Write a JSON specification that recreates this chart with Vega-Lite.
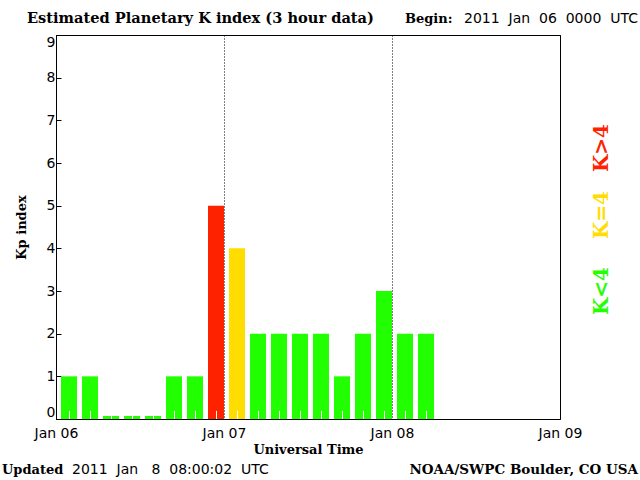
{
  "$schema": "https://vega.github.io/schema/vega-lite/v6.json",
  "width": 504,
  "height": 384,
  "autosize": {"type": "none"},
  "padding": {"left": 56, "top": 35, "right": 80, "bottom": 61},
  "background": "white",
  "config": {
    "view": {"stroke": "black", "strokeWidth": 1},
    "font": "DejaVu Sans",
    "text": {"font": "DejaVu Sans", "fontSize": 14, "color": "black"}
  },
  "datasets": {
    "kp": [
      {"start": "2011-01-06T00:00:00Z", "end": "2011-01-06T03:00:00Z", "Kp": 1},
      {"start": "2011-01-06T03:00:00Z", "end": "2011-01-06T06:00:00Z", "Kp": 1},
      {"start": "2011-01-06T06:00:00Z", "end": "2011-01-06T09:00:00Z", "Kp": 0},
      {"start": "2011-01-06T09:00:00Z", "end": "2011-01-06T12:00:00Z", "Kp": 0},
      {"start": "2011-01-06T12:00:00Z", "end": "2011-01-06T15:00:00Z", "Kp": 0},
      {"start": "2011-01-06T15:00:00Z", "end": "2011-01-06T18:00:00Z", "Kp": 1},
      {"start": "2011-01-06T18:00:00Z", "end": "2011-01-06T21:00:00Z", "Kp": 1},
      {"start": "2011-01-06T21:00:00Z", "end": "2011-01-07T00:00:00Z", "Kp": 5},
      {"start": "2011-01-07T00:00:00Z", "end": "2011-01-07T03:00:00Z", "Kp": 4},
      {"start": "2011-01-07T03:00:00Z", "end": "2011-01-07T06:00:00Z", "Kp": 2},
      {"start": "2011-01-07T06:00:00Z", "end": "2011-01-07T09:00:00Z", "Kp": 2},
      {"start": "2011-01-07T09:00:00Z", "end": "2011-01-07T12:00:00Z", "Kp": 2},
      {"start": "2011-01-07T12:00:00Z", "end": "2011-01-07T15:00:00Z", "Kp": 2},
      {"start": "2011-01-07T15:00:00Z", "end": "2011-01-07T18:00:00Z", "Kp": 1},
      {"start": "2011-01-07T18:00:00Z", "end": "2011-01-07T21:00:00Z", "Kp": 2},
      {"start": "2011-01-07T21:00:00Z", "end": "2011-01-08T00:00:00Z", "Kp": 3},
      {"start": "2011-01-08T00:00:00Z", "end": "2011-01-08T03:00:00Z", "Kp": 2},
      {"start": "2011-01-08T03:00:00Z", "end": "2011-01-08T06:00:00Z", "Kp": 2}
    ]
  },
  "data": {"name": "kp"},
  "layer": [
    {
      "mark": {"type": "bar", "xOffset": 5},
      "encoding": {
        "x": {
          "field": "start",
          "type": "temporal",
          "scale": {
            "type": "utc",
            "domain": [
              {"year": 2011, "month": 1, "date": 6, "utc": true},
              {"year": 2011, "month": 1, "date": 9, "utc": true}
            ]
          },
          "axis": {
            "title": "Universal Time",
            "titleFont": "DejaVu Serif",
            "titleFontWeight": "bold",
            "titleFontSize": 13,
            "titleColor": "black",
            "titlePadding": 3,
            "values": [
              {"year": 2011, "month": 1, "date": 6, "utc": true},
              {"year": 2011, "month": 1, "date": 7, "utc": true},
              {"year": 2011, "month": 1, "date": 8, "utc": true},
              {"year": 2011, "month": 1, "date": 9, "utc": true}
            ],
            "labelExpr": "utcFormat(datum.value, '%b %d')",
            "labelFont": "DejaVu Sans",
            "labelFontSize": 14,
            "labelColor": "black",
            "labelPadding": 7,
            "labelFlush": false,
            "tickSize": 0,
            "domainColor": "black",
            "grid": true,
            "gridColor": "black",
            "gridDash": [1, 2],
            "gridWidth": 1,
            "gridOpacity": 1
          }
        },
        "x2": {"field": "end"},
        "y": {
          "field": "Kp",
          "type": "quantitative",
          "scale": {"domain": [0, 9], "nice": false, "zero": true},
          "axis": {
            "title": "Kp index",
            "titleFont": "DejaVu Serif",
            "titleFontWeight": "bold",
            "titleFontSize": 13,
            "titleColor": "black",
            "titlePadding": 18,
            "values": [0, 1, 2, 3, 4, 5, 6, 7, 8, 9],
            "labelFont": "DejaVu Sans",
            "labelFontSize": 14,
            "labelColor": "black",
            "labelPadding": 6,
            "labelFlush": true,
            "tickSize": -5,
            "tickColor": "black",
            "domainColor": "black",
            "grid": false
          }
        },
        "y2": {"datum": 0},
        "color": {
          "condition": [
            {"test": "datum.Kp > 4", "value": "#FF2200"},
            {"test": "datum.Kp == 4", "value": "#FFDD00"}
          ],
          "value": "#22FF00"
        }
      }
    },
    {
      "transform": [{"filter": "datum.Kp == 0"}],
      "mark": {"type": "bar", "xOffset": 5, "yOffset": -3, "color": "#22FF00"},
      "encoding": {
        "x": {"field": "start", "type": "temporal"},
        "x2": {"field": "end"},
        "y": {"datum": 0, "type": "quantitative"},
        "y2": {"datum": 0}
      }
    },
    {
      "mark": {"type": "rule", "color": "white", "strokeWidth": 1, "xOffset": 13.5},
      "encoding": {
        "x": {"field": "start", "type": "temporal"},
        "y": {"datum": 0, "type": "quantitative"},
        "y2": {"datum": 0.19}
      }
    },
    {
      "data": {"values": [{}]},
      "mark": {"type": "text", "font": "DejaVu Serif", "fontWeight": "bold", "fontSize": 14.6, "align": "left", "baseline": "alphabetic", "dx": -29, "dy": -12},
      "encoding": {
        "x": {"datum": {"year": 2011, "month": 1, "date": 6, "utc": true}, "type": "temporal"},
        "y": {"datum": 9, "type": "quantitative"},
        "text": {"value": "Estimated Planetary K index (3 hour data)"}
      }
    },
    {
      "data": {"values": [{}]},
      "mark": {"type": "text", "font": "DejaVu Serif", "fontWeight": "bold", "fontSize": 13, "align": "left", "baseline": "alphabetic", "dx": -155, "dy": -12},
      "encoding": {
        "x": {"datum": {"year": 2011, "month": 1, "date": 9, "utc": true}, "type": "temporal"},
        "y": {"datum": 9, "type": "quantitative"},
        "text": {"value": "Begin:"}
      }
    },
    {
      "data": {"values": [{}]},
      "mark": {"type": "text", "font": "DejaVu Sans", "fontSize": 14, "align": "right", "baseline": "alphabetic", "dx": 78, "dy": -12},
      "encoding": {
        "x": {"datum": {"year": 2011, "month": 1, "date": 9, "utc": true}, "type": "temporal"},
        "y": {"datum": 9, "type": "quantitative"},
        "text": {"value": "2011\u00a0 Jan\u00a0 06\u00a0 0000\u00a0 UTC"}
      }
    },
    {
      "data": {"values": [{}]},
      "mark": {"type": "text", "font": "DejaVu Serif", "fontWeight": "bold", "fontSize": 13, "align": "left", "baseline": "alphabetic", "dx": -54, "dy": 55},
      "encoding": {
        "x": {"datum": {"year": 2011, "month": 1, "date": 6, "utc": true}, "type": "temporal"},
        "y": {"datum": 0, "type": "quantitative"},
        "text": {"value": "Updated"}
      }
    },
    {
      "data": {"values": [{}]},
      "mark": {"type": "text", "font": "DejaVu Sans", "fontSize": 14, "align": "left", "baseline": "alphabetic", "dx": 16, "dy": 55},
      "encoding": {
        "x": {"datum": {"year": 2011, "month": 1, "date": 6, "utc": true}, "type": "temporal"},
        "y": {"datum": 0, "type": "quantitative"},
        "text": {"value": "2011\u00a0 Jan\u00a0\u00a0 8\u00a0 08:00:02\u00a0 UTC"}
      }
    },
    {
      "data": {"values": [{}]},
      "mark": {"type": "text", "font": "DejaVu Serif", "fontWeight": "bold", "fontSize": 13.5, "align": "right", "baseline": "alphabetic", "dx": 78, "dy": 55},
      "encoding": {
        "x": {"datum": {"year": 2011, "month": 1, "date": 9, "utc": true}, "type": "temporal"},
        "y": {"datum": 0, "type": "quantitative"},
        "text": {"value": "NOAA/SWPC Boulder, CO USA"}
      }
    },
    {
      "data": {"values": [{}]},
      "mark": {"type": "text", "font": "DejaVu Serif", "fontWeight": "bold", "fontSize": 20, "angle": 270, "align": "center", "baseline": "middle", "color": "#FF2200"},
      "encoding": {
        "x": {"datum": {"year": 2011, "month": 1, "date": 9, "hours": 6, "utc": true}, "type": "temporal"},
        "y": {"datum": 6.35, "type": "quantitative"},
        "text": {"value": "K>4"}
      }
    },
    {
      "data": {"values": [{}]},
      "mark": {"type": "text", "font": "DejaVu Serif", "fontWeight": "bold", "fontSize": 20, "angle": 270, "align": "center", "baseline": "middle", "color": "#FFDD00"},
      "encoding": {
        "x": {"datum": {"year": 2011, "month": 1, "date": 9, "hours": 6, "utc": true}, "type": "temporal"},
        "y": {"datum": 4.78, "type": "quantitative"},
        "text": {"value": "K=4"}
      }
    },
    {
      "data": {"values": [{}]},
      "mark": {"type": "text", "font": "DejaVu Serif", "fontWeight": "bold", "fontSize": 20, "angle": 270, "align": "center", "baseline": "middle", "color": "#22FF00"},
      "encoding": {
        "x": {"datum": {"year": 2011, "month": 1, "date": 9, "hours": 6, "utc": true}, "type": "temporal"},
        "y": {"datum": 3.0, "type": "quantitative"},
        "text": {"value": "K<4"}
      }
    }
  ]
}
